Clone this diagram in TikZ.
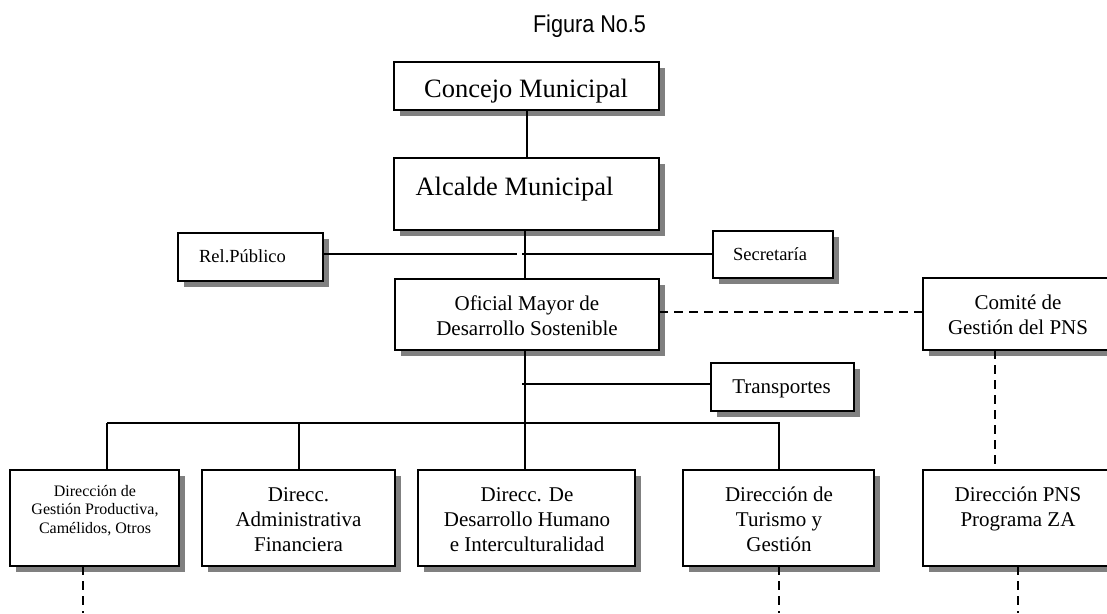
\documentclass[tikz,border=0pt]{standalone}
\usepackage{graphicx}
\usepackage{fontspec}
\setmainfont{Liberation Serif}
\newfontfamily\figfont{Liberation Sans}
\usetikzlibrary{shadows}
\tikzset{
  box/.style={draw, line width=2pt, fill=white, inner sep=0pt, outer sep=0pt,
    drop shadow={shadow xshift=5.5pt, shadow yshift=-5.5pt, fill=black!50, opacity=1}},
  conn/.style={line width=2pt},
  dashconn/.style={line width=2pt, dash pattern=on 9pt off 6pt},
  tbig/.style={font=\fontsize{26.5}{30}\selectfont, inner sep=0pt, anchor=base},
  tmed/.style={font=\fontsize{21}{25}\selectfont, inner sep=0pt, anchor=base, align=center},
  tsmall/.style={font=\fontsize{18.5}{22}\selectfont, inner sep=0pt, anchor=base},
  ttiny/.style={font=\fontsize{16}{18.5}\selectfont, inner sep=0pt, anchor=base, align=center},
}
\begin{document}
\begin{tikzpicture}[x=1pt, y=-1pt]
\useasboundingbox (0,0) rectangle (1107,613);
\clip (0,0) rectangle (1107,613);
% title
\node[font=\figfont\fontsize{24.3}{28}\selectfont, inner sep=0pt, anchor=base] (fig) at (589.5,32) {\scalebox{0.89}[1]{Figura No.5}};
% boxes
\node[box, minimum width=265pt, minimum height=48pt] (conc) at (526.5,86) {};
\node[box, minimum width=265pt, minimum height=72pt] (alc) at (526.5,194) {};
\node[box, minimum width=145pt, minimum height=48pt] (rel) at (250.5,257) {};
\node[box, minimum width=120pt, minimum height=47pt] (sec) at (773,254.5) {};
\node[box, minimum width=264pt, minimum height=71pt] (ofi) at (527,314.5) {};
\node[box, minimum width=190pt, minimum height=72pt] (com) at (1018,314) {};
\node[box, minimum width=143pt, minimum height=48pt] (tra) at (782.5,387) {};
\node[box, minimum width=169pt, minimum height=96pt] (d1) at (94.5,518) {};
\node[box, minimum width=193pt, minimum height=96pt] (d2) at (298.5,518) {};
\node[box, minimum width=217pt, minimum height=96pt] (d3) at (526.5,518) {};
\node[box, minimum width=191pt, minimum height=96pt] (d4) at (778.5,518) {};
\node[box, minimum width=190pt, minimum height=96pt] (d5) at (1018,518) {};
% texts (base anchor = last line baseline)
\node[tbig] (concT) at (526,97) {Concejo Municipal};
\node[tbig] (alcT) at (514.5,195) {Alcalde Municipal};
\node[tsmall] (relT) at (242.5,262) {Rel.Público};
\node[tsmall] (secT) at (770,260) {Secretaría};
\node[tmed] (traT) at (781.5,393) {Transportes};
\node[tmed] (ofiT) at (527,335) {Oficial Mayor de\\Desarrollo Sostenible};
\node[tmed] (comT) at (1018,334) {Comité de\\Gestión del PNS};
\node[ttiny] (d1T) at (95,533) {Dirección de\\Gestión Productiva,\\Camélidos, Otros};
\node[tmed] (d2T) at (298.5,551) {Direcc.\\Administrativa\\Financiera};
\node[tmed] (d3T) at (527,551) {Direcc. De\\Desarrollo Humano\\e Interculturalidad};
\node[tmed] (d4T) at (779,551) {Dirección de\\Turismo y\\Gestión};
\node[tmed] (d5T) at (1018,526) {Dirección PNS\\Programa ZA};
% helper coordinates
\coordinate (m) at (525,0);
\coordinate (g1) at (517,254);
\coordinate (g2) at (522,254);
\coordinate (t0) at (522,384);
\coordinate (dy) at (0,312);
\coordinate (bL) at (107,423);
\coordinate (cx) at (995,0);
\coordinate (e1) at (83,613);
\coordinate (e4) at (778.5,613);
\coordinate (e5) at (1018,613);
% connectors
\draw[conn] (conc.south) -- (alc.north);
\draw[conn] (alc.south -| m) -- (ofi.north -| m);
\draw[conn] (rel.east |- g1) -- (g1);
\draw[conn] (g2) -- (sec.west |- g2);
\draw[conn] (t0) -- (tra.west |- t0);
\draw[conn] (ofi.south -| m) -- (d3.north -| m);
\draw[conn] (bL) -- (d4.north |- bL) -- (d4.north);
\draw[conn] (bL) -- (d1.north -| bL);
\draw[conn] (d2.north |- bL) -- (d2.north);
\draw[dashconn] (ofi.east |- dy) -- (com.west |- dy);
\draw[dashconn] (com.south -| cx) -- (d5.north -| cx);
\draw[dashconn] (d1.south -| e1) -- (e1);
\draw[dashconn] (d4.south) -- (e4);
\draw[dashconn] (d5.south) -- (e5);
\end{tikzpicture}
\end{document}
